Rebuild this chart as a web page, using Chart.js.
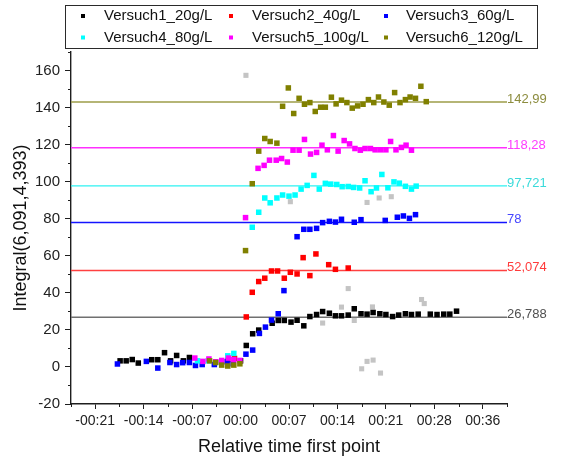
<!DOCTYPE html>
<html>
<head>
<meta charset="utf-8">
<title>Integral vs. time</title>
<script src="https://cdn.jsdelivr.net/npm/chart.js@4.4.0/dist/chart.umd.min.js"></script>
<style>
  html, body { margin: 0; padding: 0; background: #fff; }
  canvas { display: block; }
</style>
</head>
<body>
<canvas id="runs" width="574" height="458"></canvas>
<script>
// minutes relative to the first point, integral values of each run
const time1 = [-17.9, -17.0, -16.1, -15.2, -13.2, -12.3, -11.3, -10.4, -9.5, -8.5, -7.6, 0.0, 0.85, 1.8, 2.7, 4.7, 5.6, 6.5, 7.5, 8.4, 9.4, 10.3, 11.3, 12.2, 13.2, 14.1, 15.0, 16.0, 16.9, 17.9, 18.8, 19.7, 20.7, 21.6, 22.6, 23.5, 24.5, 25.4, 26.4, 28.2, 29.2, 30.2, 31.1, 32.1];
const int1 = [3.3, 3.3, 4.0, 2.1, 3.9, 3.9, 7.7, 3.3, 6.2, 3.3, 5.1, 3.3, 11.6, 17.9, 19.9, 23.6, 25.1, 25.1, 24.2, 25.2, 22.2, 27.2, 28.3, 29.9, 29.0, 27.6, 27.6, 28.0, 31.4, 28.7, 28.5, 29.4, 28.7, 28.3, 27.2, 28.0, 28.7, 28.3, 28.5, 28.5, 28.3, 28.5, 28.5, 30.1];

const time2 = [-1.9, -0.9, 0.85, 1.74, 2.7, 3.6, 4.6, 5.5, 6.5, 7.4, 8.4, 9.3, 10.3, 11.2, 13.1, 14.1, 16.0];
const int2 = [3.8, 4.6, 27.0, 40.3, 46.1, 47.9, 51.8, 51.8, 47.9, 51.1, 50.2, 59.0, 49.3, 61.0, 55.2, 52.7, 53.4];

const time3 = [-18.3, -14.0, -12.3, -10.5, -9.5, -8.6, -7.6, -6.7, -5.7, -3.9, -2.0, -1.1, 0.8, 1.8, 2.8, 3.7, 4.6, 5.6, 6.45, 8.4, 9.4, 10.3, 11.3, 12.2, 13.2, 14.1, 15.0, 16.9, 17.9, 21.5, 23.3, 24.2, 25.1, 26.0];
const int3 = [1.6, 3.0, -0.6, 2.4, 1.3, 2.3, 2.4, 0.8, 1.3, 1.3, 2.8, 1.7, 6.9, 9.1, 18.1, 21.5, 25.3, 28.7, 41.2, 70.3, 74.3, 74.3, 74.8, 77.9, 78.6, 78.2, 79.7, 78.1, 79.5, 79.1, 80.8, 81.5, 80.2, 82.2];

const time4 = [-6.4, -4.8, -3.7, -1.9, -1.0, 1.74, 2.7, 3.6, 4.4, 5.4, 6.25, 7.2, 8.1, 9.0, 9.9, 10.9, 11.7, 12.6, 13.4, 14.3, 15.1, 16.0, 16.8, 17.7, 18.5, 19.4, 20.2, 21.0, 21.9, 22.8, 23.6, 24.5, 25.4, 26.1];
const int4 = [3.3, 3.3, 2.5, 6.0, 7.3, 75.4, 83.5, 91.2, 88.6, 91.2, 92.8, 92.2, 92.8, 96.0, 98.0, 103.4, 96.0, 99.1, 98.7, 98.5, 97.3, 97.4, 96.9, 96.6, 100.5, 94.6, 96.6, 103.9, 96.7, 99.9, 99.2, 97.5, 96.0, 97.6];

const time5 = [-6.8, -5.6, -4.7, -3.7, -2.8, -1.8, -1.0, -0.1, 0.74, 2.6, 3.5, 4.3, 5.3, 6.1, 6.95, 7.8, 8.7, 9.5, 10.4, 11.3, 12.1, 12.9, 13.8, 14.5, 15.4, 16.2, 17.0, 17.8, 18.5, 19.3, 20.0, 20.8, 21.6, 22.3, 23.1, 23.9, 24.6, 25.4];
const int5 = [4.8, 3.0, 4.3, 2.8, 3.5, 4.8, 3.9, 3.5, 80.6, 107.2, 108.8, 111.6, 111.6, 112.5, 110.6, 117.0, 117.0, 122.8, 114.9, 115.8, 119.7, 117.2, 124.9, 116.5, 122.2, 120.4, 117.9, 117.0, 117.9, 117.9, 117.2, 117.2, 117.2, 121.7, 117.2, 118.5, 119.7, 117.0];

const time6 = [-4.6, -3.7, -2.8, -1.9, -1.0, -0.1, 0.74, 1.74, 2.7, 3.6, 4.4, 5.4, 6.25, 7.1, 7.9, 8.7, 9.5, 10.3, 11.1, 11.9, 12.6, 13.5, 14.2, 15.0, 15.8, 16.6, 17.4, 18.2, 19.0, 19.8, 20.5, 21.3, 22.1, 22.9, 23.7, 24.5, 25.2, 26.0, 26.8, 27.6];
const int6 = [3.3, 2.4, 1.0, 0.5, 1.0, 1.7, 62.8, 98.9, 116.5, 123.3, 121.7, 120.8, 140.7, 150.6, 136.8, 145.0, 141.8, 142.7, 137.9, 140.2, 140.2, 145.6, 142.0, 144.0, 142.7, 139.7, 140.9, 141.8, 144.3, 142.7, 145.7, 143.0, 141.3, 148.1, 142.7, 144.3, 145.7, 145.0, 151.5, 143.2];

// masked points (grey, not in the legend)
const timeMasked = [0.8, 7.4, 12.2, 15.0, 16.0, 16.9, 18.0, 18.8, 18.8, 19.6, 19.7, 20.6, 20.8, 22.4, 26.9, 27.3];
const intMasked = [157.4, 89.2, 23.7, 32.3, 42.3, 25.1, -1.0, 3.0, 88.8, 32.4, 3.7, 91.2, -3.3, 91.9, 36.4, 34.2];

const seriesNames = ['Versuch1_20g/L', 'Versuch2_40g/L', 'Versuch3_60g/L', 'Versuch4_80g/L', 'Versuch5_100g/L', 'Versuch6_120g/L'];
// mean plateau level of each run
const levelValues = [26.788, 52.074, 78, 97.721, 118.28, 142.99];

const xTickMinutes = [-21.6, -14.4, -7.2, 0, 7.2, 14.4, 21.6, 28.8, 36];
const xTickLabels = ['-00:21', '-00:14', '-00:07', '00:00', '00:07', '00:14', '00:21', '00:28', '00:36'];
const yTickValues = [-20, 0, 20, 40, 60, 80, 100, 120, 140, 160];

const X_MIN = -25.2, X_MAX = 39.6, Y_MIN = -20, Y_MAX = 170;
const FONT = "'Liberation Sans', Arial, sans-serif";
const AXIS = '#1e1e1e';

const markColors = ['#000000', '#ff0000', '#0000ff', '#00ffff', '#ff00ff', '#808000'];
const lineColors = ['#707070', '#ff4040', '#1414ff', '#2ef2f2', '#ff30ff', '#9c9c48'];
const labelColors = ['#505050', '#ff3a3a', '#4646ff', '#3adada', '#ff3cff', '#8c8c3e'];

const times = [time1, time2, time3, time4, time5, time6];
const values = [int1, int2, int3, int4, int5, int6];
const zip = (xs, ys) => xs.map((x, i) => ({ x: x, y: ys[i] }));

const datasets = [];
// plateau lines first so the markers sit on top
levelValues.forEach((v, i) => {
  datasets.push({
    type: 'line',
    label: 'level ' + (i + 1),
    data: [{ x: X_MIN, y: v }, { x: X_MAX, y: v }],
    borderColor: lineColors[i],
    borderWidth: 1.4,
    pointRadius: 0,
    order: 20,
    isLevel: true
  });
});
datasets.push({
  label: 'masked',
  data: zip(timeMasked, intMasked),
  backgroundColor: '#c4c4c4',
  pointStyle: 'rect',
  pointRadius: 3.6,
  pointBorderWidth: 0,
  order: 10
});
seriesNames.forEach((name, i) => {
  datasets.push({
    label: name,
    data: zip(times[i], values[i]),
    backgroundColor: markColors[i],
    pointStyle: 'rect',
    pointRadius: 3.9,
    pointBorderWidth: 0,
    order: 6 - i,
    isSeries: true
  });
});

const fmtLevel = v => String(v).replace('.', ',');

// value labels at the right end of each plateau line
const levelLabels = {
  id: 'levelLabels',
  afterDraw(chart) {
    const { ctx, chartArea, scales } = chart;
    ctx.save();
    ctx.font = '13px ' + FONT;
    ctx.textAlign = 'left';
    ctx.textBaseline = 'alphabetic';
    levelValues.forEach((v, i) => {
      ctx.fillStyle = labelColors[i];
      ctx.fillText(fmtLevel(v), chartArea.right, scales.y.getPixelForValue(v) + 1);
    });
    ctx.restore();
  }
};

// minor ticks halfway between the labelled ones
const minorTicks = {
  id: 'minorTicks',
  afterDraw(chart) {
    const { ctx, chartArea, scales } = chart;
    ctx.save();
    ctx.strokeStyle = AXIS;
    ctx.lineWidth = 1;
    ctx.beginPath();
    for (let t = X_MIN; t <= X_MAX + 0.01; t += 7.2) {
      const px = Math.round(scales.x.getPixelForValue(t)) + 0.5;
      ctx.moveTo(px, chartArea.bottom);
      ctx.lineTo(px, chartArea.bottom + 3);
    }
    for (let v = -10; v <= Y_MAX; v += 20) {
      const py = Math.round(scales.y.getPixelForValue(v)) + 0.5;
      ctx.moveTo(chartArea.left, py);
      ctx.lineTo(chartArea.left - 3, py);
    }
    ctx.stroke();
    ctx.restore();
  }
};

// framed two-row legend across the top
const boxLegend = {
  id: 'boxLegend',
  afterDraw(chart) {
    const ctx = chart.ctx;
    const cols = [83, 231, 386];
    const textX = [104, 252, 406];
    const rows = [16, 37.5];
    ctx.save();
    ctx.strokeStyle = '#2a2a2a';
    ctx.lineWidth = 1;
    ctx.strokeRect(65.5, 5.5, 472, 43);
    ctx.font = '15px ' + FONT;
    ctx.textBaseline = 'middle';
    ctx.textAlign = 'left';
    chart.data.datasets.filter(d => d.isSeries).forEach((d, i) => {
      const c = i % 3, r = Math.floor(i / 3);
      ctx.fillStyle = d.backgroundColor;
      ctx.fillRect(cols[c] - 2, rows[r] - 2, 4, 4);
      ctx.fillStyle = '#111';
      ctx.fillText(d.label, textX[c], rows[r]);
    });
    ctx.restore();
  }
};

new Chart(document.getElementById('runs'), {
  type: 'scatter',
  data: { datasets: datasets },
  plugins: [levelLabels, minorTicks, boxLegend],
  options: {
    responsive: false,
    animation: false,
    layout: { padding: { left: 0, top: 52, right: 67, bottom: 0 } },
    plugins: {
      legend: { display: false },
      tooltip: { enabled: false }
    },
    scales: {
      x: {
        type: 'linear',
        min: X_MIN,
        max: X_MAX,
        afterBuildTicks: s => { s.ticks = xTickMinutes.map(v => ({ value: v })); },
        afterFit: s => { s.height = 54; },
        ticks: {
          autoSkip: false,
          maxRotation: 0,
          padding: 4,
          color: '#222',
          font: { family: FONT, size: 14 },
          callback: (v, i) => xTickLabels[i]
        },
        grid: { drawOnChartArea: false, tickLength: 5, color: AXIS, tickWidth: 1 },
        border: { display: true, color: AXIS, width: 1.4 },
        title: {
          display: true,
          text: 'Relative time first point',
          color: '#111',
          font: { family: FONT, size: 18 },
          padding: { top: 0, bottom: 0 }
        }
      },
      y: {
        type: 'linear',
        min: Y_MIN,
        max: Y_MAX,
        afterBuildTicks: s => { s.ticks = yTickValues.map(v => ({ value: v })); },
        afterFit: s => { s.width = 71; },
        ticks: {
          padding: 5,
          color: '#222',
          font: { family: FONT, size: 15 }
        },
        grid: { drawOnChartArea: false, tickLength: 6, color: AXIS, tickWidth: 1 },
        border: { display: true, color: AXIS, width: 1.4 },
        title: {
          display: true,
          text: 'Integral(6,091,4,393)',
          color: '#111',
          font: { family: FONT, size: 18 },
          padding: { top: 10, bottom: 0 }
        }
      }
    }
  }
});
</script>
</body>
</html>
